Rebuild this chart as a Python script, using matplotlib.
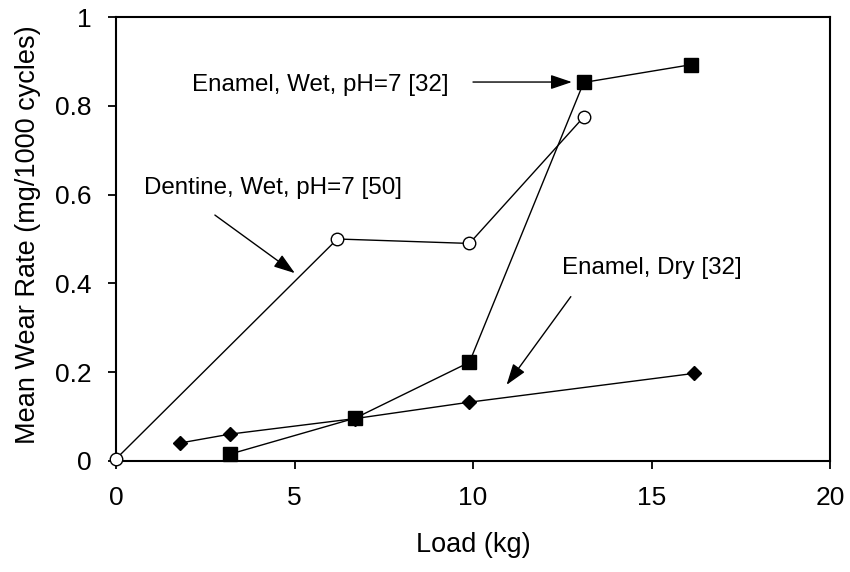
import matplotlib
matplotlib.use('Agg')
import matplotlib.pyplot as plt

# --- data ---
dentine_load = [0.0, 6.2, 9.9, 13.1]
dentine_wear = [0.004, 0.50, 0.49, 0.775]

enamel_wet_load = [3.2, 6.7, 9.9, 13.1, 16.1]
enamel_wet_wear = [0.015, 0.096, 0.222, 0.853, 0.893]

enamel_dry_load = [1.8, 3.2, 6.7, 9.9, 16.2]
enamel_dry_wear = [0.040, 0.060, 0.095, 0.132, 0.197]

x_ticks = [0, 5, 10, 15, 20]
y_ticks = [0, 0.2, 0.4, 0.6, 0.8, 1.0]
y_tick_labels = ['0', '0.2', '0.4', '0.6', '0.8', '1']

plt.rcParams['font.family'] = ['Liberation Sans', 'DejaVu Sans']

fig = plt.figure(figsize=(8.5, 5.72), dpi=100)
ax = fig.add_axes([116 / 850, 1 - 460.7 / 572, 714 / 850, 443.4 / 572])

line_kw = dict(color='black', linewidth=1.0, clip_on=False, zorder=3)
ax.plot(dentine_load, dentine_wear, marker='o', markersize=9,
        markerfacecolor='white', markeredgecolor='black', markeredgewidth=1.0, **line_kw)
ax.plot(enamel_dry_load, enamel_dry_wear, marker='D', markersize=6.8,
        markerfacecolor='black', markeredgecolor='black', **line_kw)
ax.plot(enamel_wet_load, enamel_wet_wear, marker='s', markersize=9.5,
        markerfacecolor='black', markeredgecolor='black', **line_kw)

ax.set_xlim(0, 20)
ax.set_ylim(0, 1)
ax.set_xticks(x_ticks)
ax.set_xticklabels([str(t) for t in x_ticks])
ax.set_yticks(y_ticks)
ax.set_yticklabels(y_tick_labels)

ax.tick_params(axis='both', direction='out', length=6, width=1.3,
               labelsize=19, colors='black')
ax.tick_params(axis='x', pad=12)
ax.tick_params(axis='y', pad=11.5)
for s in ax.spines.values():
    s.set_linewidth(1.5)
    s.set_color('black')

ax.set_xlabel('Load (kg)', fontsize=19.5)
ax.xaxis.set_label_coords(0.5, -(531.6 - 460.7) / 443.4)
ax.xaxis.label.set_verticalalignment('top')
ax.set_ylabel('Mean Wear Rate (mg/1000 cycles)', fontsize=19.5)
ax.yaxis.set_label_coords((40.6 - 116) / 714, 0.51)

# --- annotations ---
arrow_kw = dict(arrowstyle='-|>,head_length=0.65,head_width=0.22',
                mutation_scale=20, color='black', lw=1.0,
                shrinkA=0, shrinkB=0)

ax.text(5.71, 0.847, 'Enamel, Wet, pH=7 [32]', fontsize=17.4,
        ha='center', va='center')
ax.annotate('', xy=(12.77, 0.854), xytext=(10.0, 0.854), arrowprops=arrow_kw)

ax.text(4.40, 0.615, 'Dentine, Wet, pH=7 [50]', fontsize=17.4,
        ha='center', va='center')
ax.annotate('', xy=(5.01, 0.423), xytext=(2.77, 0.554), arrowprops=arrow_kw)

ax.text(15.0, 0.434, 'Enamel, Dry [32]', fontsize=17.4,
        ha='center', va='center')
ax.annotate('', xy=(10.94, 0.171), xytext=(12.74, 0.370), arrowprops=arrow_kw)

plt.savefig('out.png', dpi=100)
